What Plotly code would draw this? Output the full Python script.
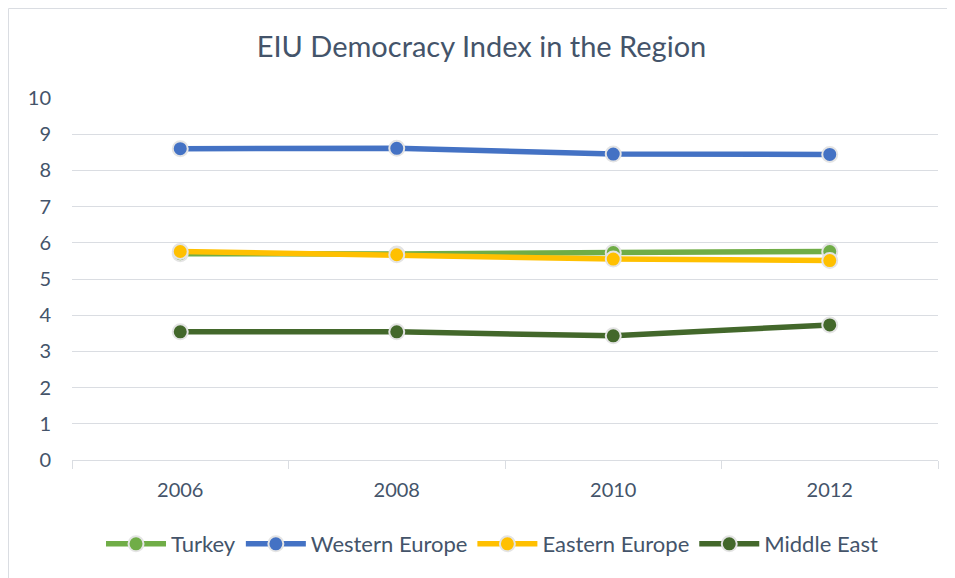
import plotly.graph_objects as go

years = ["2006", "2008", "2010", "2012"]
turkey = [5.70, 5.69, 5.73, 5.76]
western_europe = [8.60, 8.61, 8.45, 8.44]
eastern_europe = [5.76, 5.67, 5.55, 5.51]
middle_east = [3.54, 3.54, 3.43, 3.73]

series = [
    ("Turkey", turkey, "#70AD47"),
    ("Western Europe", western_europe, "#4472C4"),
    ("Eastern Europe", eastern_europe, "#FFC000"),
    ("Middle East", middle_east, "#43682B"),
]

TEXT = "#44546A"
GRID = "#DADDE2"

fig = go.Figure()
for name, vals, color in series:
    fig.add_trace(go.Scatter(
        x=years, y=vals, name=name, mode="lines+markers",
        line=dict(color=color, width=5.5),
        marker=dict(color=color, size=15, line=dict(color="#E4E4E4", width=2)),
    ))

# page body has an 8px margin, so the figure is shrunk by that much
fig.update_layout(
    width=947, height=570,
    margin=dict(l=64, r=17, t=90, b=118),
    paper_bgcolor="white", plot_bgcolor="white",
    font=dict(family="Lato, sans-serif", size=16, color=TEXT),
    title=dict(text="EIU Democracy Index in the Region", x=0.5, xanchor="center",
               y=0.9316, yanchor="middle", font=dict(size=29, color=TEXT)),
    showlegend=True,
    legend=dict(orientation="h", x=0.485, xanchor="center", y=-0.232, yanchor="middle",
                font=dict(size=22, color=TEXT), itemwidth=60, traceorder="normal"),
    xaxis=dict(type="category", range=[-0.5, 3.5], showgrid=False, showline=True,
               linecolor=GRID, linewidth=1,
               ticks="outside", tickson="boundaries", ticklen=8, tickcolor=GRID,
               ticklabelstandoff=12,
               tickfont=dict(size=20, color=TEXT), zeroline=False),
    yaxis=dict(range=[0, 10], dtick=1, showgrid=True, gridcolor=GRID, gridwidth=1,
               zeroline=False, showline=False, ticks="", ticklabelstandoff=20,
               tickfont=dict(size=20, color=TEXT)),
)

fig.add_shape(type="rect", xref="paper", yref="paper",
              x0=-0.0733, x1=1.2, y0=-0.6, y1=1.2472,
              line=dict(color=GRID, width=1), layer="below")

fig.write_html("out.html")
